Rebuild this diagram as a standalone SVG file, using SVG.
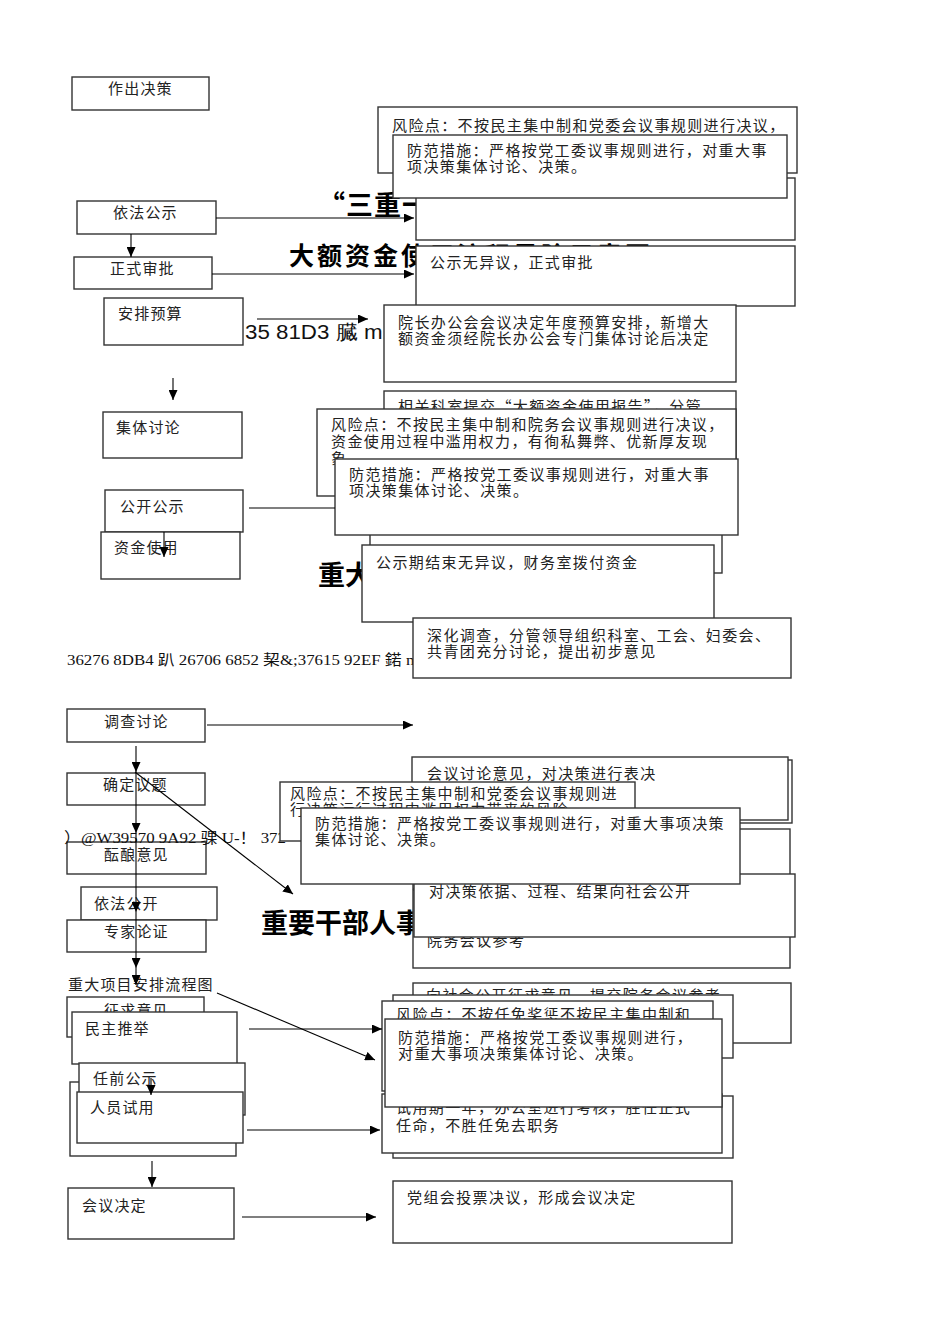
<svg xmlns="http://www.w3.org/2000/svg" width="950" height="1344" viewBox="0 0 950 1344">
<style>
.b{fill:#fff;stroke:#333;stroke-width:1.4}
.t{font-family:"Noto Sans CJK SC","Liberation Sans",sans-serif;font-size:15px;letter-spacing:1.4px;fill:#222}
.n{font-family:"Noto Sans CJK SC","Liberation Sans",sans-serif;font-size:15px;letter-spacing:1.2px;fill:#222}
.h{font-family:"Noto Sans CJK SC","Liberation Sans",sans-serif;font-weight:bold;fill:#000}
.s{font-family:"Liberation Serif","Noto Sans CJK SC",serif;font-size:15px;fill:#111}
.c{fill:none;stroke:#000;stroke-width:1.1}
</style>
<defs>
<marker id="ah" markerUnits="userSpaceOnUse" markerWidth="11" markerHeight="9" refX="10" refY="4.5" orient="auto">
<path d="M0,0 L10,4.5 L0,9 z" fill="#000"/>
</marker>
</defs>
<rect width="950" height="1344" fill="#fff"/>

<!-- stray texts and titles -->
<g id="titles">
<text class="h" x="318" y="215" font-size="27" letter-spacing="1">“三重一大”事项流程风险示意图</text>
<text class="h" x="289" y="265" font-size="25" letter-spacing="3">大额资金使用流程风险示意图</text>
<text class="h" x="318" y="585" font-size="27">重大项目安排流程风险示意图</text>
<text class="h" x="261" y="933" font-size="27">重要干部人事任免流程风险示意图</text>
<text x="245" y="339" font-family="Liberation Sans,sans-serif" font-size="20" textLength="150" lengthAdjust="spacingAndGlyphs" fill="#111">35 81D3 臓 m1</text>
<text class="s" x="67" y="665" font-size="16" textLength="352" lengthAdjust="spacingAndGlyphs">36276 8DB4 趴 26706 6852 栔&amp;;37615 92EF 鍩 m</text>
</g>

<!-- left column nodes -->
<g id="n-zuochu"><rect class="b" x="72" y="77" width="137" height="33"/><text class="n" x="108" y="94">作出决策</text></g>
<g id="n-yifagongshi"><rect class="b" x="77" y="201" width="139" height="33"/><text class="n" x="113" y="218">依法公示</text></g>
<g id="n-zhengshi"><rect class="b" x="74" y="257" width="138" height="32"/><text class="n" x="110" y="274">正式审批</text></g>
<g id="n-anpai"><rect class="b" x="104" y="298" width="139" height="47"/><text class="n" x="118" y="319">安排预算</text></g>
<g id="n-jiti"><rect class="b" x="103" y="412" width="139" height="46"/><text class="n" x="116" y="433">集体讨论</text></g>
<g id="n-gongkai"><rect class="b" x="105" y="490" width="138" height="42"/><text class="n" x="120" y="512">公开公示</text></g>
<g id="n-zijin"><rect class="b" x="101" y="532" width="139" height="47"/><text class="n" x="114" y="553">资金使用</text></g>

<!-- top right boxes -->
<g id="r-c"><rect class="b" x="416" y="178" width="379" height="62"/></g>
<g id="r-d"><rect class="b" x="416" y="246" width="379" height="60"/><text class="t" x="430" y="268">公示无异议，正式审批</text></g>
<g id="r-e"><rect class="b" x="384" y="305" width="352" height="77"/><text class="t" x="398" y="328">院长办公会会议决定年度预算安排，新增大</text><text class="t" x="398" y="344">额资金须经院长办公会专门集体讨论后决定</text></g>
<g id="r-a"><rect class="b" x="378" y="107" width="419" height="66"/><text class="t" x="392" y="131">风险点：不按民主集中制和党委会议事规则进行决议，</text></g>
<g id="r-b"><rect class="b" x="393" y="135" width="394" height="63"/><text class="t" x="407" y="156">防范措施：严格按党工委议事规则进行，对重大事</text><text class="t" x="407" y="172">项决策集体讨论、决策。</text></g>

<!-- middle upper boxes -->
<g id="r-f"><rect class="b" x="384" y="391" width="352" height="90"/><text class="t" x="398" y="412">相关科室提交“大额资金使用报告”，分管</text></g>
<g id="r-back1"><rect class="b" x="370" y="480" width="352" height="93"/></g>
<g id="r-g"><rect class="b" x="317" y="409" width="419" height="87"/><text class="t" x="331" y="430">风险点：不按民主集中制和院务会议事规则进行决议，</text><text class="t" x="331" y="447">资金使用过程中滥用权力，有徇私舞弊、优新厚友现</text><text class="t" x="331" y="464">象</text></g>
<g id="r-h"><rect class="b" x="335" y="459" width="403" height="76"/><text class="t" x="349" y="480">防范措施：严格按党工委议事规则进行，对重大事</text><text class="t" x="349" y="496">项决策集体讨论、决策。</text></g>
<g id="r-i"><rect class="b" x="362" y="545" width="352" height="77"/><text class="t" x="376" y="568">公示期结束无异议，财务室拨付资金</text></g>
<g id="r-j"><rect class="b" x="413" y="618" width="378" height="60"/><text class="t" x="427" y="641" letter-spacing="1">深化调查，分管领导组织科室、工会、妇委会、</text><text class="t" x="427" y="657" letter-spacing="1">共青团充分讨论，提出初步意见</text></g>

<!-- middle left nodes -->
<g id="n-diaocha"><rect class="b" x="67" y="709" width="138" height="33"/><text class="n" x="104" y="727">调查讨论</text></g>
<g id="n-queding"><rect class="b" x="67" y="773" width="138" height="32"/><text class="n" x="103" y="790">确定议题</text></g>
<g id="n-yunniang"><rect class="b" x="67" y="842" width="139" height="32"/><text class="n" x="104" y="860">酝酿意见</text></g>
<g id="n-yifagongkai"><rect class="b" x="81" y="887" width="136" height="33"/><text class="n" x="94" y="909">依法公开</text></g>
<g id="n-zhuanjia"><rect class="b" x="67" y="920" width="139" height="32"/><text class="n" x="104" y="937">专家论证</text></g>
<text class="s" x="64" y="843" font-size="17" textLength="222" lengthAdjust="spacingAndGlyphs">）@W39570 9A92 骒 U-！ 372</text>
<text class="n" x="68" y="990" letter-spacing="0.5">重大项目安排流程图</text>

<!-- middle right boxes -->
<g id="r-k"><rect class="b" x="416" y="760" width="376" height="63"/><rect class="b" x="412" y="757" width="376" height="63"/><text class="t" x="427" y="779">会议讨论意见，对决策进行表决</text></g>
<g id="r-n"><rect class="b" x="413" y="829" width="377" height="60"/></g>
<g id="r-p"><rect class="b" x="413" y="890" width="377" height="78"/><text class="t" x="427" y="946">院务会议参考</text></g>
<g id="r-o"><rect class="b" x="414" y="874" width="381" height="63"/><text class="t" x="429" y="897">对决策依据、过程、结果向社会公开</text></g>
<g id="r-l"><rect class="b" x="280" y="782" width="355" height="59"/><text class="t" x="290" y="799" letter-spacing="0.9">风险点：不按民主集中制和党委会议事规则进</text><text class="t" x="290" y="815" letter-spacing="0.9">行决策运行过程中滥用权力带来的风险</text></g>
<g id="r-m"><rect class="b" x="301" y="808" width="439" height="76"/><text class="t" x="315" y="829" letter-spacing="0.9">防范措施：严格按党工委议事规则进行，对重大事项决策</text><text class="t" x="315" y="845" letter-spacing="0.9">集体讨论、决策。</text></g>

<!-- bottom left nodes -->
<g id="n-zhengqiu"><rect class="b" x="67" y="997" width="137" height="40"/><text class="n" x="104" y="1016">征求意见</text></g>
<g id="n-minzhu"><rect class="b" x="72" y="1012" width="165" height="52"/><text class="n" x="85" y="1034">民主推举</text></g>
<g id="n-back2"><rect class="b" x="70" y="1082" width="166" height="74"/></g>
<g id="n-renqian"><rect class="b" x="79" y="1063" width="166" height="52"/><text class="n" x="93" y="1084">任前公示</text></g>
<g id="n-renyuan"><rect class="b" x="77" y="1092" width="166" height="51"/><text class="n" x="90" y="1113">人员试用</text></g>
<g id="n-huiyi"><rect class="b" x="68" y="1188" width="166" height="51"/><text class="n" x="82" y="1211">会议决定</text></g>

<!-- bottom right boxes -->
<g id="r-q"><rect class="b" x="413" y="983" width="378" height="60"/><text class="t" x="426" y="1001">向社会公开征求意见，提交院务会议参考</text></g>
<g id="r-r"><rect class="b" x="393" y="995" width="340" height="63"/></g>
<g id="r-uback"><rect class="b" x="393" y="1096" width="340" height="62"/></g>
<g id="r-u"><rect class="b" x="382" y="1094" width="340" height="59"/><text class="t" x="396" y="1113">试用期一年，办公室进行考核，胜任正式</text><text class="t" x="396" y="1131">任命，不胜任免去职务</text></g>
<g id="r-s"><rect class="b" x="382" y="1001" width="331" height="90"/><text class="t" x="396" y="1020">风险点：不按任免奖惩不按民主集中制和</text></g>
<g id="r-t"><rect class="b" x="385" y="1019" width="337" height="88"/><text class="t" x="398" y="1043">防范措施：严格按党工委议事规则进行，</text><text class="t" x="398" y="1059">对重大事项决策集体讨论、决策。</text></g>
<g id="r-v"><rect class="b" x="393" y="1181" width="339" height="62"/><text class="t" x="407" y="1203">党组会投票决议，形成会议决定</text></g>

<!-- connectors -->
<g id="connectors">
<line class="c" x1="131" y1="234" x2="131" y2="257" marker-end="url(#ah)"/>
<line class="c" x1="216" y1="218" x2="414" y2="218" marker-end="url(#ah)"/>
<line class="c" x1="212" y1="274" x2="414" y2="274" marker-end="url(#ah)"/>
<line class="c" x1="257" y1="319" x2="368" y2="319" marker-end="url(#ah)"/>
<line class="c" x1="173" y1="378" x2="173" y2="400" marker-end="url(#ah)"/>
<line class="c" x1="249" y1="508" x2="335" y2="508"/>
<line class="c" x1="164" y1="532" x2="164" y2="557" marker-end="url(#ah)"/>
<line class="c" x1="207" y1="725" x2="413" y2="725" marker-end="url(#ah)"/>
<line class="c" x1="136" y1="746" x2="136" y2="772" marker-end="url(#ah)"/>
<line class="c" x1="136" y1="772" x2="136" y2="833" marker-end="url(#ah)"/>
<line class="c" x1="136" y1="833" x2="136" y2="912" marker-end="url(#ah)"/>
<line class="c" x1="136" y1="912" x2="136" y2="968" marker-end="url(#ah)"/>
<line class="c" x1="136" y1="968" x2="136" y2="985" marker-end="url(#ah)"/>
<line class="c" x1="135" y1="772" x2="293" y2="894" marker-end="url(#ah)"/>
<line class="c" x1="217" y1="993" x2="375" y2="1060" marker-end="url(#ah)"/>
<line class="c" x1="249" y1="1029" x2="382" y2="1029" marker-end="url(#ah)"/>
<line class="c" x1="151" y1="1078" x2="151" y2="1095" marker-end="url(#ah)"/>
<line class="c" x1="247" y1="1130" x2="380" y2="1130" marker-end="url(#ah)"/>
<line class="c" x1="152" y1="1161" x2="152" y2="1187" marker-end="url(#ah)"/>
<line class="c" x1="242" y1="1217" x2="376" y2="1217" marker-end="url(#ah)"/>
</g>
</svg>
